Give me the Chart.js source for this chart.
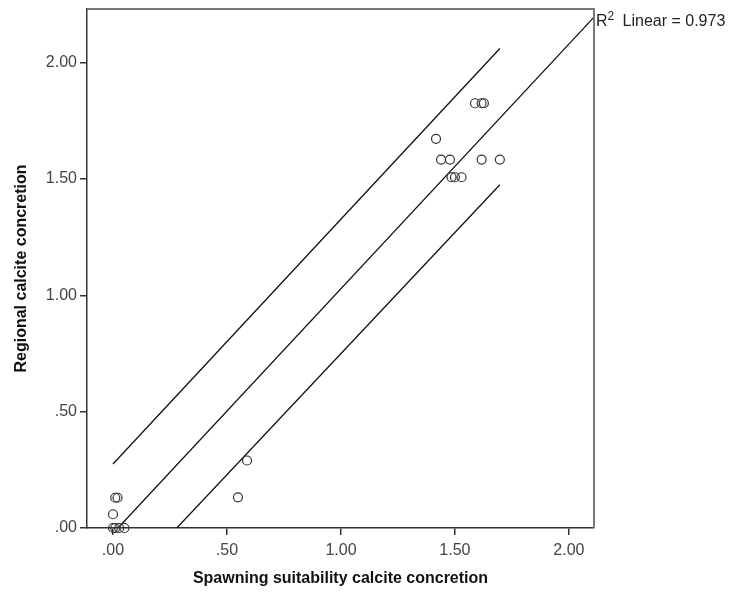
<!DOCTYPE html>
<html lang="en">
<head>
  <meta charset="UTF-8" />
  <title>Calcite concretion scatter</title>
  <style>
    html, body { margin: 0; padding: 0; background: #fff; }
    #wrap { width: 747px; height: 592px; }
  </style>
</head>
<body>
  <div id="wrap"><canvas id="chart" width="747" height="592"></canvas></div>
  <script src="https://cdn.jsdelivr.net/npm/chart.js"></script>
  <script>
    // observed points (x = spawning suitability, y = regional)
    const obsX = [1.588, 1.617, 1.627, 1.417, 1.439, 1.478, 1.617, 1.697, 1.485, 1.500, 1.529,
                  0.548, 0.588, 0.010, 0.020, 0.000, 0.000, 0.010, 0.027, 0.050];
    const obsY = [1.825, 1.825, 1.825, 1.672, 1.583, 1.583, 1.583, 1.583, 1.507, 1.507, 1.507,
                  0.132, 0.290, 0.130, 0.130, 0.059, 0.000, 0.000, 0.000, 0.000];

    // fit line and prediction bounds (end points in data units)
    const fitX = [0.022, 2.11];
    const fitY = [0.0, 2.195];
    const upperX = [0.0, 1.697];
    const upperY = [0.275, 2.06];
    const lowerX = [0.28, 1.697];
    const lowerY = [0.0, 1.475];

    const xTicks = [0, 0.5, 1, 1.5, 2];
    const yTicks = [0, 0.5, 1, 1.5, 2];
    const r2Label = 'Linear = 0.973';

    const pts = (xs, ys) => xs.map((x, i) => ({ x, y: ys[i] }));
    const fmt = v => v.toFixed(2).replace(/^0\./, '.');

    const lineDs = (xs, ys) => ({
      type: 'line',
      data: pts(xs, ys),
      borderColor: '#111',
      borderWidth: 1.3,
      pointRadius: 0,
      fill: false,
      clip: 0
    });

    // frame + R2 label
    const frame = {
      id: 'frame',
      afterDraw(chart) {
        const { ctx, chartArea: a } = chart;
        ctx.save();
        ctx.strokeStyle = '#777';
        ctx.lineWidth = 2;
        ctx.beginPath();
        ctx.moveTo(a.left, a.top);
        ctx.lineTo(a.right, a.top);
        ctx.lineTo(a.right, a.bottom);
        ctx.stroke();
        ctx.fillStyle = '#222';
        ctx.textBaseline = 'alphabetic';
        ctx.font = '16px "Liberation Sans", Arial, sans-serif';
        const x0 = a.right + 2;
        const yb = a.top + 17;
        ctx.fillText('R', x0, yb);
        const rw = ctx.measureText('R').width;
        ctx.font = '12px "Liberation Sans", Arial, sans-serif';
        ctx.fillText('2', x0 + rw, yb - 6);
        ctx.font = '16px "Liberation Sans", Arial, sans-serif';
        ctx.fillText(r2Label, x0 + rw + 15, yb);
        ctx.restore();
      }
    };

    new Chart(document.getElementById('chart'), {
      type: 'scatter',
      data: {
        datasets: [
          {
            data: pts(obsX, obsY),
            pointRadius: 4.5,
            pointBorderWidth: 1.2,
            pointBorderColor: '#333',
            pointBackgroundColor: 'rgba(0,0,0,0)',
            clip: false
          },
          lineDs(fitX, fitY),
          lineDs(upperX, upperY),
          lineDs(lowerX, lowerY)
        ]
      },
      options: {
        responsive: false,
        animation: false,
        layout: { padding: { top: 9, right: 153, left: 0, bottom: 0 } },
        plugins: { legend: { display: false }, tooltip: { enabled: false } },
        scales: {
          x: {
            type: 'linear',
            min: -0.114,
            max: 2.11,
            afterBuildTicks: s => { s.ticks = xTicks.map(v => ({ value: v })); },
            afterFit: s => { s.height = 64; s.paddingLeft = 0; s.paddingRight = 0; },
            grid: { drawOnChartArea: false, drawTicks: true, tickLength: 7, color: '#333', lineWidth: 1.5 },
            border: { display: true, color: '#333', width: 1.5 },
            ticks: {
              callback: v => fmt(v),
              color: '#444',
              padding: 6,
              maxRotation: 0,
              font: { family: '"Liberation Sans", Arial, sans-serif', size: 16 }
            },
            title: {
              display: true,
              text: 'Spawning suitability calcite concretion',
              color: '#111',
              padding: { top: 4, bottom: 4 },
              font: { family: '"Liberation Sans", Arial, sans-serif', size: 16, weight: 'bold' }
            }
          },
          y: {
            type: 'linear',
            min: 0,
            max: 2.23,
            afterBuildTicks: s => { s.ticks = yTicks.map(v => ({ value: v })); },
            afterFit: s => { s.width = 87; s.paddingTop = 0; s.paddingBottom = 0; },
            grid: { drawOnChartArea: false, drawTicks: true, tickLength: 7, color: '#333', lineWidth: 1.5 },
            border: { display: true, color: '#333', width: 1.5 },
            ticks: {
              callback: v => fmt(v),
              color: '#444',
              padding: 3,
              font: { family: '"Liberation Sans", Arial, sans-serif', size: 16 }
            },
            title: {
              display: true,
              text: 'Regional calcite concretion',
              color: '#111',
              padding: { top: 12, bottom: 4 },
              font: { family: '"Liberation Sans", Arial, sans-serif', size: 16, weight: 'bold' }
            }
          }
        }
      },
      plugins: [frame]
    });
  </script>
</body>
</html>
